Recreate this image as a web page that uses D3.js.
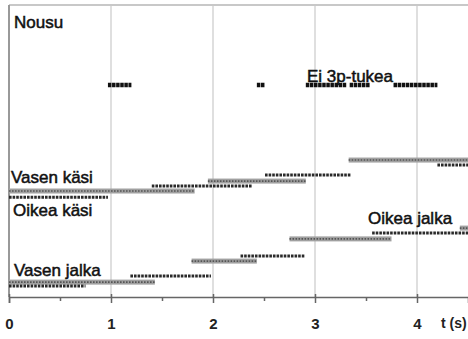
<!DOCTYPE html>
<html><head><meta charset="utf-8">
<script src="https://cdn.jsdelivr.net/npm/d3@7"></script>
<style>
html,body{margin:0;padding:0;background:#fff;}
svg{display:block;}
text{font-family:"Liberation Sans",Arial,sans-serif;}
</style></head>
<body>
<svg id="chart" width="468" height="339"></svg>
<script>
// ---- data: segments [start t (s), end t (s), level] ----
const nousu = [[0.97,1.20,72.6],[2.43,2.51,72.6],[2.91,3.31,72.6],[3.34,3.54,72.6],[3.77,4.20,72.6]];
const vasenKasi = [[0,1.82,36.3],[1.95,2.91,39.7],[3.33,4.6,46.9]];
const oikeaKasi = [[0,0.97,34.2],[1.40,2.38,38.0],[2.51,3.35,41.8],[4.20,4.6,45.2]];
const vasenJalka = [[0,1.43,5.1],[1.79,2.43,12.3],[2.75,3.75,19.9],[4.42,4.6,23.6]];
const oikeaJalka = [[0,0.75,3.8],[1.19,1.98,7.2],[2.27,2.90,14.0],[3.56,4.6,21.9]];
const majorTicks = [0,1,2,3,4];
const minorTicks = [0.5,1.5,2.5,3.5];
const axisTitle = "t (s)";
const labels = ["Nousu","Ei 3p-tukea","Vasen käsi","Oikea käsi","Oikea jalka","Vasen jalka"];

const svg = d3.select("#chart");
const x = d3.scaleLinear().domain([0,4.5]).range([9,468]);
const y = d3.scaleLinear().domain([0,100]).range([297,5]);

// grid lines
svg.append("g").selectAll("line").data(majorTicks.slice(1)).join("line")
  .attr("x1",d=>x(d)).attr("x2",d=>x(d)).attr("y1",y(100)).attr("y2",y(0))
  .attr("stroke","#d4d4d4").attr("stroke-width",1.5);

// frame
svg.append("line").attr("x1",x(0)).attr("x2",468).attr("y1",y(100)).attr("y2",y(100))
  .attr("stroke","#c8c8c8").attr("stroke-width",2);
svg.append("line").attr("x1",x(0)).attr("x2",x(0)).attr("y1",y(100)).attr("y2",y(0))
  .attr("stroke","#999").attr("stroke-width",2);

// axes
const gx = svg.append("g").attr("transform",`translate(0,${y(0)})`)
  .call(d3.axisBottom(x).tickValues(majorTicks).tickSize(6).tickPadding(15).tickFormat(d3.format("d")));
gx.select(".domain").attr("stroke","#666").attr("stroke-width",1.5);
gx.selectAll(".tick line").attr("stroke","#666").attr("stroke-width",1.5).attr("y1",-3);
gx.selectAll(".tick text").attr("font-family","Liberation Sans, Arial, sans-serif")
  .attr("font-size",15).attr("font-weight","bold").attr("fill","#222");
const gm = svg.append("g").attr("transform",`translate(0,${y(0)})`)
  .call(d3.axisBottom(x).tickValues(minorTicks).tickSize(4).tickFormat(""));
gm.select(".domain").remove();
gm.selectAll(".tick line").attr("stroke","#666").attr("stroke-width",1.5);
svg.append("text").attr("x",441).attr("y",328).attr("font-size",14).attr("font-weight","bold")
  .attr("fill","#222").text(axisTitle);

// series
function grayBars(data){
  const g = svg.append("g");
  g.selectAll("rect").data(data).join("rect")
    .attr("x",d=>x(d[0])).attr("width",d=>x(d[1])-x(d[0]))
    .attr("y",d=>y(d[2])-2.5).attr("height",5).attr("fill","#a0a0a0");
  g.selectAll("line").data(data).join("line")
    .attr("x1",d=>x(d[0])).attr("x2",d=>x(d[1])).attr("y1",d=>y(d[2])).attr("y2",d=>y(d[2]))
    .attr("stroke","#555").attr("stroke-width",1.6).attr("stroke-dasharray","1.6,1.4");
}
function darkBars(data){
  svg.append("g").selectAll("line").data(data).join("line")
    .attr("x1",d=>x(d[0])).attr("x2",d=>x(d[1])).attr("y1",d=>y(d[2])).attr("y2",d=>y(d[2]))
    .attr("stroke","#2a2a2a").attr("stroke-width",3).attr("stroke-dasharray","2.6,1");
}
grayBars(vasenKasi); darkBars(oikeaKasi);
grayBars(vasenJalka); darkBars(oikeaJalka);
svg.append("g").selectAll("line").data(nousu).join("line")
  .attr("x1",d=>x(d[0])).attr("x2",d=>x(d[1])).attr("y1",d=>y(d[2])).attr("y2",d=>y(d[2]))
  .attr("stroke","#111").attr("stroke-width",4.5).attr("stroke-dasharray","3.5,0.6");

// labels
const lpos = [[14,28],[307,82],[11,183],[13,216],[368,224],[14,276]];
svg.append("g").selectAll("text").data(labels).join("text")
  .attr("x",(d,i)=>lpos[i][0]).attr("y",(d,i)=>lpos[i][1])
  .attr("font-size",17).attr("fill","#111").attr("stroke","#111").attr("stroke-width",0.5)
  .text(d=>d);
</script>
</body></html>
